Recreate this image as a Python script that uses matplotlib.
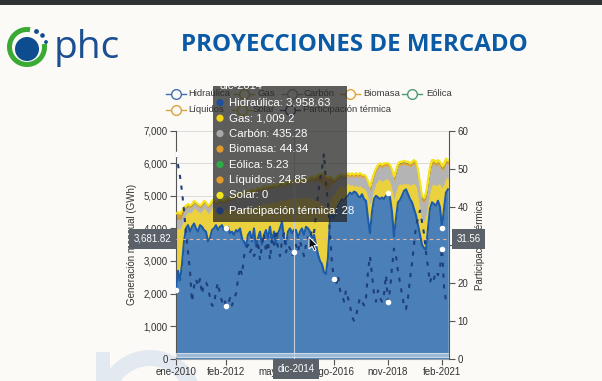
import matplotlib
matplotlib.use('Agg')

import numpy as np
import matplotlib.pyplot as plt
import matplotlib.transforms as mtransforms
from matplotlib.patches import Rectangle, Circle, Wedge, Polygon
from matplotlib.lines import Line2D

plt.rcParams['font.family'] = ['Liberation Sans', 'DejaVu Sans']

W, H = 602, 381
BG = '#fbfaf6'

# ---------------------------------------------------------------------------
# datos mensuales (GWh), ene-2010 .. may-2021
# ---------------------------------------------------------------------------
meses = ['ene', 'feb', 'mar', 'abr', 'may', 'jun', 'jul', 'ago', 'sep', 'oct', 'nov', 'dic']
fechas = [meses[k % 12] + '-' + str(2010 + k // 12) for k in range(137)]

hidraulica = [
    2100, 2700, 2400, 2900, 3600, 4000, 4100, 3900, 4050, 4150, 4000, 3900,
    4100, 4050, 3950, 3900, 3600, 3700, 3950, 4000, 4100, 3950, 4050, 4100,
    3950, 4000, 4050, 3850, 3900, 3800, 3950, 3900, 4000, 3700, 3600, 3450,
    3800, 3900, 3600, 4000, 3450, 3700, 3900, 3500, 3800, 3950, 3700, 4050,
    3600, 3900, 3500, 3850, 4000, 4200, 3700, 3500, 3900, 4000, 3850, 3958.63,
    3950, 3700, 3900, 4000, 3800, 4050, 4000, 3900, 3700, 3800, 3500, 3200,
    3000, 2900, 2650, 2600, 3100, 4300, 4450, 4300, 4500, 4700, 4800, 4900,
    4850, 4950, 5000, 5100, 5050, 5130, 5100, 5000, 4950, 5050, 4900, 4850,
    4300, 3850, 4500, 4900, 5000, 4950, 4900, 4950, 4900, 5000, 5080, 4950,
    4500, 3750, 4300, 4800, 4870, 5000, 5150, 5200, 5050, 4900, 4800, 4600,
    4400, 4100, 3800, 3500, 3400, 3350, 4000, 4600, 4800, 4750, 4700, 4850,
    4650, 4020, 4600, 5100, 5200]

gas = [
    1835, 1323, 1590, 1250, 729, 437, 420, 586, 484, 498, 598, 637,
    389, 502, 687, 676, 869, 832, 688, 675, 469, 657, 584, 464,
    615, 582, 550, 684, 662, 779, 599, 702, 629, 879, 1011, 1197,
    809, 749, 1086, 658, 1250, 1039, 776, 1246, 1009, 786, 1099, 736,
    1198, 938, 1275, 997, 887, 695, 1155, 1398, 1036, 894, 1097, 1009.2,
    984, 1274, 1061, 923, 1152, 938, 912, 1038, 1259, 1067, 1378, 1676,
    1795, 1873, 2024, 2015, 1536, 594, 563, 765, 664, 542, 515, 425,
    427, 386, 396, 226, 315, 175, 245, 285, 374, 204, 345, 323,
    689, 917, 510, 339, 390, 530, 617, 507, 600, 518, 448, 494,
    728, 1170, 874, 548, 507, 356, 234, 172, 340, 438, 566, 790,
    930, 945, 830, 756, 849, 1095, 811, 575, 555, 606, 626, 521,
    709, 1248, 779, 474, 346]

carbon = [
    300, 280, 280, 260, 220, 180, 160, 150, 150, 140, 140, 150,
    150, 140, 150, 160, 170, 160, 150, 160, 170, 180, 200, 220,
    220, 250, 280, 300, 320, 350, 380, 380, 400, 400, 420, 430,
    420, 430, 440, 420, 430, 440, 450, 430, 420, 440, 430, 440,
    430, 440, 450, 430, 440, 430, 420, 430, 440, 430, 430, 435.28,
    440, 450, 460, 450, 470, 480, 500, 520, 540, 560, 580, 600,
    620, 620, 600, 580, 560, 450, 380, 330, 300, 280, 260, 250,
    250, 240, 230, 250, 260, 270, 280, 290, 300, 320, 330, 350,
    380, 420, 400, 380, 380, 390, 400, 410, 420, 400, 400, 420,
    480, 560, 520, 560, 580, 600, 600, 580, 560, 560, 580, 600,
    600, 620, 620, 600, 560, 520, 560, 600, 620, 620, 600, 600,
    560, 520, 480, 440, 420]

biomasa = [
    30, 32, 35, 35, 36, 38, 35, 34, 36, 35, 37, 36,
    36, 35, 38, 37, 36, 35, 37, 38, 36, 37, 38, 39,
    38, 39, 40, 38, 39, 40, 41, 39, 40, 41, 40, 42,
    40, 41, 42, 41, 40, 42, 43, 42, 41, 43, 42, 44,
    42, 43, 44, 43, 44, 45, 44, 43, 44, 45, 44, 44.34,
    45, 46, 47, 46, 45, 47, 48, 47, 46, 48, 47, 49,
    50, 52, 51, 50, 49, 51, 52, 50, 51, 53, 52, 54,
    53, 55, 54, 53, 55, 56, 55, 54, 56, 57, 55, 56,
    55, 57, 58, 56, 57, 58, 59, 58, 57, 58, 59, 60,
    58, 60, 61, 59, 60, 61, 62, 61, 60, 62, 61, 63,
    62, 60, 58, 56, 57, 59, 61, 62, 63, 62, 61, 63,
    62, 61, 63, 64, 62]

eolica = [
    6, 6, 5, 4, 3, 4, 6, 7, 6, 4, 3, 5,
    6, 5, 5, 4, 3, 4, 6, 7, 5, 4, 3, 5,
    6, 6, 5, 4, 4, 5, 6, 6, 5, 4, 3, 5,
    6, 5, 5, 4, 3, 4, 6, 7, 6, 4, 4, 5,
    6, 6, 5, 4, 3, 4, 6, 7, 6, 4, 4, 5.23,
    6, 6, 5, 4, 3, 4, 6, 7, 6, 5, 4, 5,
    6, 6, 5, 4, 3, 4, 5, 6, 5, 4, 3, 5,
    6, 5, 5, 4, 3, 4, 6, 7, 6, 4, 3, 5,
    6, 6, 5, 4, 3, 4, 6, 7, 6, 4, 4, 5,
    6, 6, 5, 4, 4, 5, 6, 7, 6, 5, 4, 6,
    8, 9, 8, 7, 6, 7, 9, 10, 9, 8, 7, 8,
    9, 9, 8, 7, 6]

liquidos = [
    180, 160, 140, 100, 60, 40, 30, 25, 25, 22, 20, 22,
    20, 18, 20, 22, 20, 18, 20, 22, 20, 21, 23, 22,
    22, 24, 25, 23, 24, 26, 25, 24, 26, 25, 24, 26,
    26, 25, 27, 26, 25, 24, 26, 27, 25, 26, 24, 25,
    25, 24, 26, 25, 24, 25, 26, 24, 25, 26, 24, 24.85,
    26, 25, 27, 26, 28, 30, 35, 40, 50, 70, 90, 120,
    180, 250, 320, 350, 300, 200, 100, 50, 30, 20, 18, 16,
    15, 14, 15, 16, 15, 14, 15, 16, 15, 14, 15, 16,
    20, 30, 25, 18, 16, 15, 16, 17, 15, 16, 15, 18,
    25, 40, 35, 22, 20, 18, 17, 18, 20, 19, 20, 22,
    30, 45, 60, 55, 50, 40, 30, 25, 22, 20, 20, 22,
    25, 35, 30, 22, 20]

solar = [
    0, 0, 0, 0, 0, 0, 0, 0, 0, 0, 0, 0,
    0, 0, 0, 0, 0, 0, 0, 0, 0, 0, 0, 0,
    0, 0, 0, 0, 0, 0, 0, 0, 0, 0, 0, 0,
    0, 0, 0, 0, 0, 0, 0, 0, 0, 0, 0, 0,
    0, 0, 0, 0, 0, 0, 0, 0, 0, 0, 0, 0,
    0, 0, 0, 0, 0, 0, 0, 0, 0, 0, 0, 0,
    0, 0, 0, 0, 0, 0, 0, 0, 0, 0, 0, 0,
    0, 0, 0, 0, 0, 0, 0, 0, 0, 0, 0, 0,
    1, 1, 2, 2, 2, 2, 3, 3, 3, 3, 3, 3,
    4, 5, 5, 6, 8, 10, 12, 14, 15, 16, 18, 20,
    20, 22, 24, 25, 26, 28, 30, 30, 32, 34, 35, 36,
    36, 38, 40, 42, 44]

# participacion termica (%), eje derecho
participacion = [
    54, 51, 48, 44, 39, 33, 28, 23, 15, 19, 21, 19,
    21, 17, 20, 20, 19, 16, 14, 14, 18, 20, 17, 15,
    16, 14, 14, 16, 14, 16, 17, 21, 24, 22, 27, 29,
    30, 28, 29, 27, 28, 31, 26, 30, 33, 28, 31, 26,
    32, 30, 34, 29, 27, 31, 33, 28, 30, 29, 27, 28,
    30, 28, 31, 29, 27, 30, 32, 31, 34, 33, 38, 43,
    47, 50, 54, 46, 41, 33, 25, 21, 19, 22, 18, 17,
    15, 18, 16, 14, 11, 10, 11, 14, 16, 15, 14, 16,
    23, 27, 22, 17, 15, 18, 16, 15, 17, 22, 15, 18,
    24, 29, 27, 23, 20, 17, 14, 13, 16, 21, 25, 30,
    35, 37, 39, 36, 33, 28, 24, 20, 22, 21, 23, 22,
    24, 29, 19, 15, 14]

colores = ['#4a80b7', '#ebd13e', '#b4b4b4', '#e6a13a', '#3aa357', '#e09a35', '#f2e21a']

tick_idx = [0, 25, 52, 79, 106, 133]
hover = 59                 # dic-2014
cursor_gwh = 3681.82
cursor_pct = 31.56

# ---------------------------------------------------------------------------
# figura
# ---------------------------------------------------------------------------
fig = plt.figure(figsize=(W / 100, H / 100), dpi=100, facecolor=BG)

# fondo: marca de agua tenue (solo formas)
bg = fig.add_axes([0, 0, 1, 1])
bg.set_xlim(0, W)
bg.set_ylim(H, 0)
bg.axis('off')
bg.set_zorder(-1)
bg.add_patch(Wedge((150, 402), 52, 0, 360, width=16, facecolor='#e3e9f0', edgecolor='none'))
bg.add_patch(Rectangle((96, 352), 14, 40, facecolor='#e3e9f0', edgecolor='none'))

ax = fig.add_axes([176 / W, 1 - 358.7 / H, 273 / W, 228 / H])
ax.set_facecolor('none')
x = np.arange(len(hidraulica))

ax.stackplot(x, hidraulica, gas, carbon, biomasa, eolica, liquidos, solar,
             colors=colores, edgecolor='face', linewidth=0.4)
total = np.vstack([hidraulica, gas, carbon, biomasa, eolica, liquidos, solar]).sum(axis=0)
ax.plot(x, total, color='#f3e21c', lw=1.4, zorder=3)
ax.plot(x, hidraulica, color='#1d5ba8', lw=1.5, zorder=3,
        marker='o', markevery=[0, 25, 106, 133], ms=3, mfc='white', mec='white')

ax.axvline(hover, color='#c9d0d8', lw=0.8, zorder=4)
ax.axhline(cursor_gwh, color='#eab8a0', lw=0.8, ls=(0, (3, 3)), zorder=4)
ax.add_patch(Rectangle((0, 37), 136.5, 138, facecolor='#b9cde0', edgecolor='#e8eef5',
                       lw=0.8, alpha=0.75, zorder=4))

ax.set_xlim(0, 136.5)
ax.set_ylim(0, 7000)
ax.set_yticks(range(0, 7001, 1000))
ax.set_yticklabels(['{:,}'.format(v) for v in range(0, 7001, 1000)])
ax.set_xticks(tick_idx)
ax.set_xticklabels([fechas[i] for i in tick_idx])
ax.yaxis.grid(True, color='#dcdcdc', lw=0.7)
ax.set_axisbelow(True)
ax.tick_params(axis='both', labelsize=7, labelcolor='#333333', color='#555555',
               length=4, width=0.8, pad=2)
ax.spines['top'].set_visible(False)
ax.spines['right'].set_visible(False)
ax.spines['left'].set_color('#555555')
ax.spines['bottom'].set_color('#9aa4ae')
ax.set_ylabel('Generación mensual (GWh)', fontsize=7, color='#333333')
ax.yaxis.set_label_coords((137 - 176) / 273, 0.5)

ax2 = ax.twinx()
ax2.plot(x, participacion, color='#1e3f7c', lw=1.5, dashes=(2, 3.2), zorder=3,
         marker='o', markevery=[0, 25, 59, 79, 106, 133], ms=3, mfc='white', mec='white')
ax2.set_ylim(0, 60)
ax2.set_yticks(range(0, 61, 10))
ax2.tick_params(axis='y', labelsize=7, labelcolor='#333333', color='#555555',
                length=4, width=0.8, pad=2)
for s in ['top', 'left', 'bottom']:
    ax2.spines[s].set_visible(False)
ax2.spines['right'].set_color('#555555')
ax2.set_ylabel('Participación térmica', fontsize=7, color='#333333')
ax2.yaxis.set_label_coords((475 - 176) / 273, 0.5)

# etiquetas del cursor
box = dict(boxstyle='square,pad=0.5', fc='#5a6169', ec='none')
tl = mtransforms.blended_transform_factory(ax.transAxes, ax.transData)
ax.text(-0.016, cursor_gwh, '3,681.82', transform=tl, ha='right', va='center',
        fontsize=7, color='white', bbox=box, clip_on=False, zorder=6)
tr = mtransforms.blended_transform_factory(ax2.transAxes, ax2.transData)
ax2.text(1.027, cursor_pct, '31.56', transform=tr, ha='left', va='center',
         fontsize=7, color='white', bbox=box, clip_on=False, zorder=6)
tb = mtransforms.blended_transform_factory(ax2.transData, ax2.transAxes)
ax2.text(hover + 1, -0.046, fechas[hover], transform=tb, ha='center', va='center',
         fontsize=7, color='white', bbox=box, clip_on=False, zorder=6)

# ---------------------------------------------------------------------------
# capa superior en pixeles: barra, logo, titulo, leyenda, tooltip
# ---------------------------------------------------------------------------
ov = fig.add_axes([0, 0, 1, 1])
ov.set_xlim(0, W)
ov.set_ylim(H, 0)
ov.axis('off')
ov.set_zorder(10)
ov.patch.set_alpha(0)

ov.add_patch(Rectangle((0, 0), W, 5, facecolor='#2e3434', edgecolor='none'))

# logo
ov.add_patch(Wedge((27, 47), 20, -10, 280, width=5, facecolor='#3aaa35', edgecolor='none'))
ov.add_patch(Circle((27, 49), 12, facecolor='#0d4c8f', edgecolor='none'))
for (cx, cy, r) in [(36.5, 31.5, 2.4), (42.5, 35.5, 2.3), (46, 42, 1.9)]:
    ov.add_patch(Circle((cx, cy), r, facecolor='#0d4c8f', edgecolor='none'))
ov.text(54, 58, 'phc', fontsize=28, color='#1b4f91', family='Open Sans',
        fontweight='medium', va='baseline')

ov.text(354, 45, 'PROYECCIONES DE MERCADO', ha='center', va='center', fontsize=17.4,
        fontweight='bold', color='#0b5aa6', family='Open Sans')

# leyenda
leyenda = [('Hidraúlica', '#3f6fb0', 176, 188, 94),
           ('Gas', '#c9b035', 244, 257, 94),
           ('Carbón', '#9a9a9a', 292, 304, 94),
           ('Biomasa', '#e0a43a', 350, 363, 94),
           ('Eólica', '#4c9a72', 412, 426, 94),
           ('Líquidos', '#d9a441', 176, 188, 110),
           ('Solar', '#e0cc1a', 242, 253, 110),
           ('Participación térmica', '#2f3f66', 290, 303, 110)]
for nombre, col, mx, tx, my in leyenda:
    ov.add_line(Line2D([mx - 10, mx + 10], [my, my], color=col, lw=1))
    ov.plot(mx, my, 'o', ms=7, mfc=BG, mec=col, mew=1)
    ov.text(tx, my, nombre, fontsize=6.8, color='#3a3a3a', va='center')

# tooltip
ov.add_patch(Rectangle((213, 86), 134, 136, facecolor='#282828', alpha=0.75,
                       edgecolor='none', zorder=5))
ov.text(220, 86, fechas[hover], fontsize=8, color='white', va='center', zorder=6)
filas = [('Hidraúlica', hidraulica[hover], '#1f4e9c'),
         ('Gas', gas[hover], '#f2d515'),
         ('Carbón', carbon[hover], '#a8a8a8'),
         ('Biomasa', biomasa[hover], '#e39a2c'),
         ('Eólica', eolica[hover], '#2eaa48'),
         ('Líquidos', liquidos[hover], '#e39a2c'),
         ('Solar', solar[hover], '#efe51a'),
         ('Participación térmica', participacion[hover], '#1f3a70')]
for k, (nombre, val, col) in enumerate(filas):
    yy = 102.7 + 15.45 * k
    ov.add_patch(Circle((220, yy), 3.6, facecolor=col, edgecolor='none', zorder=6))
    ov.text(229, yy, '{}: {:,}'.format(nombre, round(val, 2)), fontsize=8.2,
            color='white', va='center', zorder=6)

# puntero del raton
px, py = 309, 237
flecha = [(0, 0), (0, 12), (3, 9.3), (5.2, 13.8), (7, 12.9), (4.9, 8.6), (8.6, 8.6)]
ov.add_patch(Polygon([(px + a, py + b) for a, b in flecha], closed=True,
                     facecolor='#111111', edgecolor='white', lw=0.7, zorder=7))

fig.savefig('out.png', dpi=100, facecolor=BG)
